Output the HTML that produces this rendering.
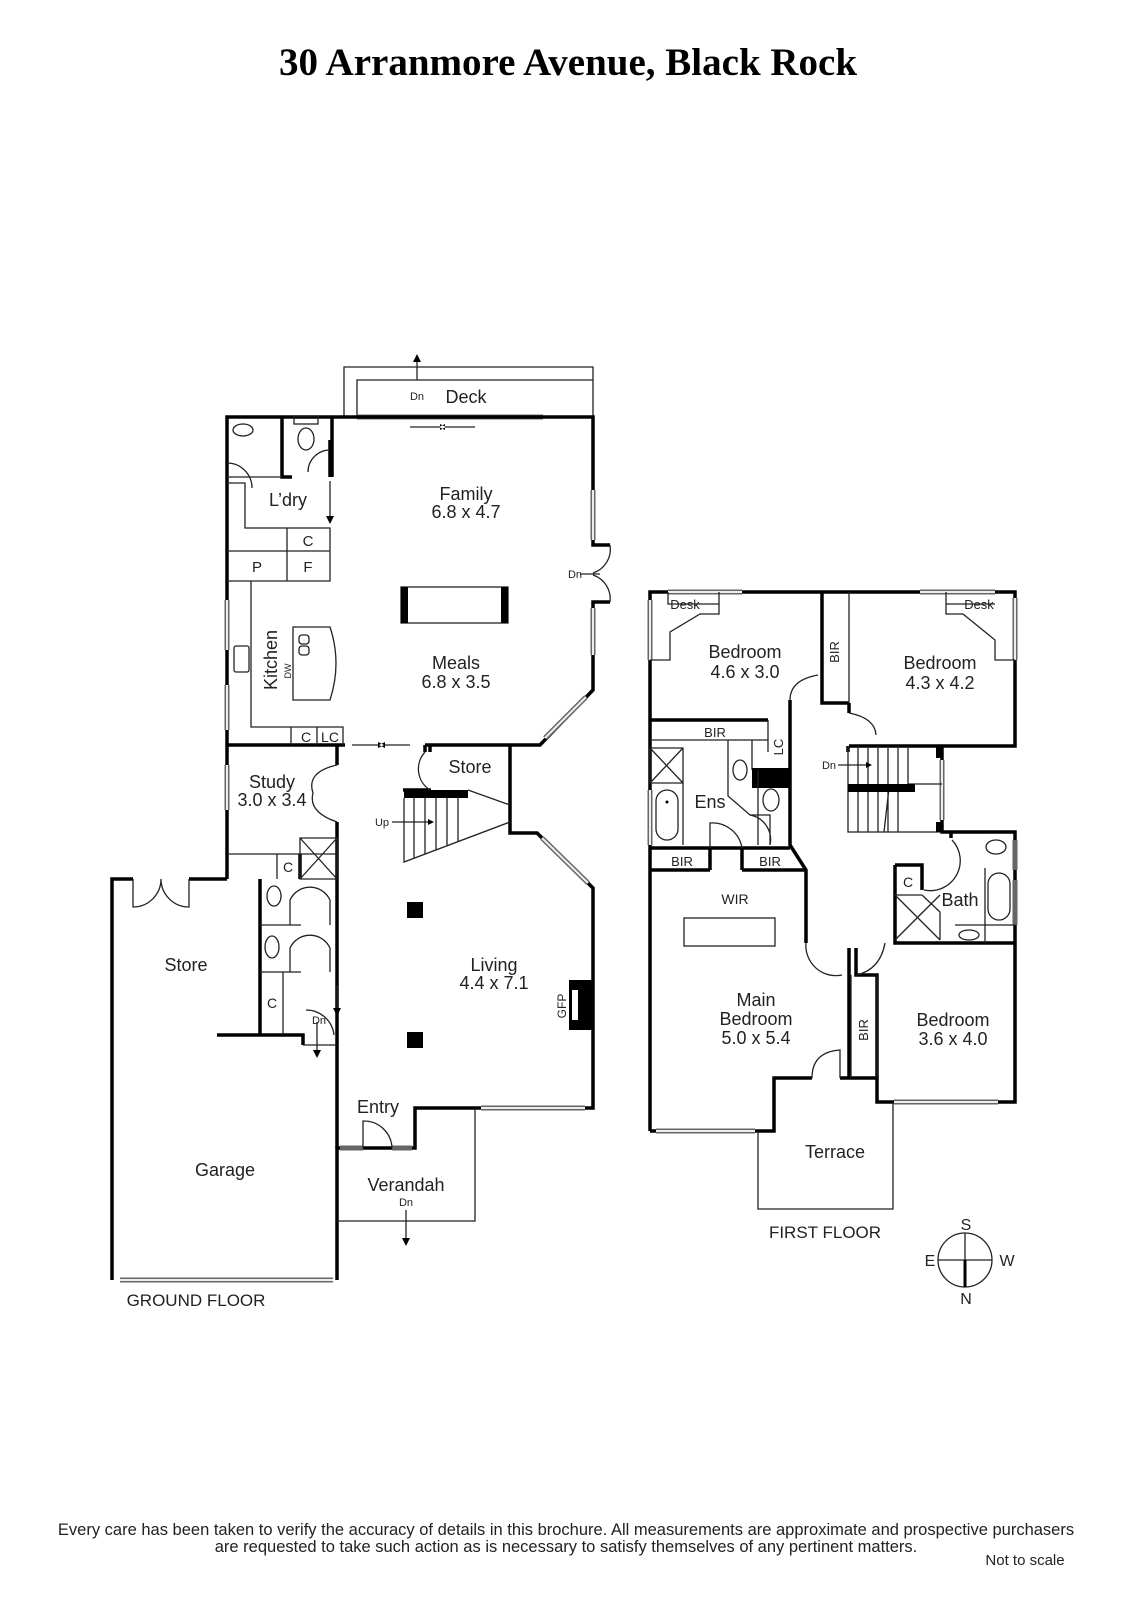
<!DOCTYPE html>
<html><head><meta charset="utf-8"><style>
html,body{margin:0;padding:0;background:#fff}
svg{display:block}
text{font-family:"Liberation Sans",sans-serif;fill:#222}
.t{font-size:18px}
.s{font-size:12px}
.w{stroke:#000;stroke-width:3.5;fill:none}
.n{stroke:#222;stroke-width:1.3;fill:none}
.win{stroke:#666;stroke-width:5;fill:none}
.win2{stroke:#eee;stroke-width:2;fill:none}
</style></head><body>
<svg width="1131" height="1600" viewBox="0 0 1131 1600" xmlns="http://www.w3.org/2000/svg">
<text x="568" y="75" text-anchor="middle" style="font-family:'Liberation Serif',serif;font-weight:bold;font-size:39px;fill:#000">30 Arranmore Avenue, Black Rock</text>

<!-- GROUND FLOOR -->
<path class="n" d="M344,417 V367 H593 V417 M357,417 V380 H593"/>
<path class="n" d="M417,380 V358"/><path d="M413,362 L417,354 L421,362Z"/>
<text x="417" y="400" text-anchor="middle" class="s" style="font-size:11px">Dn</text>
<text x="466" y="403" text-anchor="middle" class="t">Deck</text>
<line class="win" x1="357" y1="417" x2="543" y2="417"/><line class="win2" x1="357" y1="417" x2="543" y2="417"/>
<path class="n" d="M410,427 H440 M445,427 H475"/><path d="M440,424 L446,427 L440,430Z M445,424 L439,427 L445,430Z"/>

<path class="w" d="M227,879 V417 H593 V545 H610 M610,602 H593 V690 L540,745 H425 M345,745 H227"/>
<path class="w" d="M510,745 V833 H537 L593,888 V1108 H415 V1148 H337 V1280"/>
<path class="w" d="M112,1280 V879 H133 M189,879 H227 M337,833 V1148"/>
<line class="win" x1="593" y1="490" x2="593" y2="540"/><line class="win2" x1="593" y1="490" x2="593" y2="540"/>
<line class="win" x1="593" y1="608" x2="593" y2="655"/><line class="win2" x1="593" y1="608" x2="593" y2="655"/>
<line class="win" x1="545" y1="738" x2="586" y2="697"/><line class="win2" x1="545" y1="738" x2="586" y2="697"/>
<line class="win" x1="542" y1="838" x2="588" y2="883"/><line class="win2" x1="542" y1="838" x2="588" y2="883"/>
<line class="win" x1="227" y1="600" x2="227" y2="650"/><line class="win2" x1="227" y1="600" x2="227" y2="650"/>
<line class="win" x1="227" y1="685" x2="227" y2="730"/><line class="win2" x1="227" y1="685" x2="227" y2="730"/>
<line class="win" x1="227" y1="765" x2="227" y2="810"/><line class="win2" x1="227" y1="765" x2="227" y2="810"/>
<line class="win" x1="481" y1="1108" x2="585" y2="1108"/><line class="win2" x1="481" y1="1108" x2="585" y2="1108"/>
<line class="win" x1="340" y1="1148" x2="363" y2="1148"/><line class="win" x1="392" y1="1148" x2="412" y2="1148"/>
<line class="win" x1="120" y1="1280" x2="333" y2="1280"/><line class="win2" x1="120" y1="1280" x2="333" y2="1280"/>
<path class="n" d="M610,545 A25,25 0 0 1 593,573 M610,602 A25,25 0 0 0 593,575 M580,574 H600"/>
<text x="575" y="578" text-anchor="middle" style="font-size:11px">Dn</text>

<path class="w" d="M282,417 V477 H292 M332,477 V417 M330,440 V477"/>
<path class="n" d="M227,477 H282 M227,483 H245 V528 H330 V581 H227 M287,528 V581 M227,551 H330 M251,581 V727 H343 V745 M291,727 V745 M317,727 V745"/>
<path class="n" d="M227,463 A25,25 0 0 1 252,488"/>
<ellipse class="n" cx="243" cy="430" rx="10" ry="6"/>
<ellipse class="n" cx="306" cy="439" rx="8" ry="11"/><rect class="n" x="294" y="416" width="24" height="8"/>
<path class="n" d="M330,481 V520"/><path d="M326,516 L330,524 L334,516Z"/>
<path class="n" d="M330,450 A22,22 0 0 0 308,472"/>
<text x="288" y="506" text-anchor="middle" class="t">L’dry</text>
<text x="308" y="546" text-anchor="middle" class="t" style="font-size:15px">C</text>
<text x="257" y="572" text-anchor="middle" class="t" style="font-size:15px">P</text>
<text x="308" y="572" text-anchor="middle" class="t" style="font-size:15px">F</text>
<text x="306" y="742" text-anchor="middle" style="font-size:14px">C</text>
<text x="330" y="742" text-anchor="middle" style="font-size:14px">LC</text>
<path class="n" d="M293,627 H330 Q342,663 330,700 H293 Z"/>
<rect class="n" x="299" y="635" width="10" height="9" rx="3"/><rect class="n" x="299" y="646" width="10" height="9" rx="3"/>
<rect class="n" x="234" y="646" width="15" height="26" rx="2"/>
<text transform="translate(277,660) rotate(-90)" text-anchor="middle" class="t">Kitchen</text>
<text transform="translate(291,671) rotate(-90)" text-anchor="middle" style="font-size:9px">DW</text>
<rect class="n" x="401" y="587" width="107" height="36"/><rect x="401" y="587" width="7" height="36"/><rect x="501" y="587" width="7" height="36"/>
<text x="466" y="500" text-anchor="middle" class="t">Family</text><text x="466" y="518" text-anchor="middle" class="t">6.8 x 4.7</text>
<text x="456" y="669" text-anchor="middle" class="t">Meals</text><text x="456" y="688" text-anchor="middle" class="t">6.8 x 3.5</text>
<path class="n" d="M352,745 H378 M385,745 H410"/><path d="M378,742 L384,745 L378,748Z M385,742 L379,745 L385,748Z"/>
<path class="w" d="M425,745 V752 M430,745 V752 M403,790 H431"/>
<path class="n" d="M425,752 A25,25 0 0 0 430,790"/>
<rect x="404" y="790" width="64" height="8"/>
<path class="n" d="M468,790 L510,805 M404,798 V862 L510,822 M414,798 V858 M425,798 V854 M436,798 V850 M447,798 V846 M458,798 V842"/>
<path class="n" d="M392,822 H430"/><path d="M428,819 L434,822 L428,825Z"/>
<text x="382" y="826" text-anchor="middle" style="font-size:11px">Up</text>
<text x="470" y="773" text-anchor="middle" class="t">Store</text>
<path class="w" d="M337,745 V765 M337,822 V833"/>
<path class="n" d="M337,765 Q306,772 313,793 Q308,812 337,822 M229,854 H337"/>
<text x="272" y="788" text-anchor="middle" class="t">Study</text><text x="272" y="806" text-anchor="middle" class="t">3.0 x 3.4</text>
<path class="w" d="M260,879 V1035 M217,1035 H303 V1045 M300,879 V854"/>
<path class="n" d="M277,854 V879 M300,838 H337 V879 H300 Z M300,838 L337,879 M337,838 L300,879 M260,925 H301 M290,925 V900 A22,22 0 0 1 330,900 V925 M260,972 H301 M290,972 V948 A22,22 0 0 1 330,948 V972 M283,972 V1035 M303,1045 H337"/>
<ellipse class="n" cx="274" cy="896" rx="7" ry="10"/><ellipse class="n" cx="272" cy="947" rx="7" ry="11"/>
<text x="288" y="872" text-anchor="middle" style="font-size:14px">C</text>
<text x="272" y="1008" text-anchor="middle" style="font-size:14px">C</text>
<path class="n" d="M306,1010 A28,28 0 0 1 334,1035 M317,1022 V1052"/><path d="M313,1050 L317,1058 L321,1050Z"/>
<text x="319" y="1024" text-anchor="middle" style="font-size:11px">Dn</text>
<path class="n" d="M337,985 V1010"/><path d="M333,1008 L337,1016 L341,1008Z"/>
<path class="n" d="M133,879 V907 A28,28 0 0 0 161,879 A28,28 0 0 0 189,907 V879"/>
<text x="186" y="971" text-anchor="middle" class="t">Store</text>
<text x="225" y="1176" text-anchor="middle" class="t">Garage</text>
<rect x="407" y="902" width="16" height="16"/><rect x="407" y="1032" width="16" height="16"/>
<rect x="569" y="980" width="24" height="50"/><rect x="572" y="990" width="6" height="30" fill="#fff"/>
<text transform="translate(566,1006) rotate(-90)" text-anchor="middle" style="font-size:12px">GFP</text>
<text x="494" y="971" text-anchor="middle" class="t">Living</text><text x="494" y="989" text-anchor="middle" class="t">4.4 x 7.1</text>
<text x="378" y="1113" text-anchor="middle" class="t">Entry</text>
<path class="n" d="M363,1148 V1121 A28,28 0 0 1 392,1148"/>
<path class="n" d="M337,1221 H475 V1108"/>
<text x="406" y="1191" text-anchor="middle" class="t">Verandah</text>
<text x="406" y="1206" text-anchor="middle" style="font-size:11px">Dn</text>
<path class="n" d="M406,1210 V1240"/><path d="M402,1238 L406,1246 L410,1238Z"/>
<text x="196" y="1306" text-anchor="middle" style="font-size:17px">GROUND FLOOR</text>

<!-- FIRST FLOOR -->
<path class="w" d="M650,1131 V592 H1015 V746 H849 M822,592 V703 H849 M942,746 V832 H1015 V1102 H877 V1078 H840 M812,1078 H774 V1131 H650"/>
<line class="win" x1="650" y1="600" x2="650" y2="660"/><line class="win2" x1="650" y1="600" x2="650" y2="660"/>
<line class="win" x1="668" y1="592" x2="742" y2="592"/><line class="win2" x1="668" y1="592" x2="742" y2="592"/>
<line class="win" x1="920" y1="592" x2="995" y2="592"/><line class="win2" x1="920" y1="592" x2="995" y2="592"/>
<line class="win" x1="1015" y1="598" x2="1015" y2="660"/><line class="win2" x1="1015" y1="598" x2="1015" y2="660"/>
<line class="win" x1="942" y1="760" x2="942" y2="820"/><line class="win2" x1="942" y1="760" x2="942" y2="820"/>
<line class="win" x1="650" y1="790" x2="650" y2="845"/><line class="win2" x1="650" y1="790" x2="650" y2="845"/>
<line class="win" x1="656" y1="1131" x2="755" y2="1131"/><line class="win2" x1="656" y1="1131" x2="755" y2="1131"/>
<line class="win" x1="894" y1="1102" x2="998" y2="1102"/><line class="win2" x1="894" y1="1102" x2="998" y2="1102"/>
<line class="win" x1="1015" y1="840" x2="1015" y2="870"/><line class="win" x1="1015" y1="880" x2="1015" y2="925"/>
<path class="n" d="M668,592 V604 H719 V592 M719,604 L719,614 H700 L670,632 V660 H650"/>
<path class="n" d="M946,592 V604 H995 M946,604 V614 H963 L995,640 V660 H1015"/>
<text x="685" y="609" text-anchor="middle" style="font-size:13px">Desk</text>
<text x="979" y="609" text-anchor="middle" style="font-size:13px">Desk</text>
<path class="n" d="M849,592 V703"/>
<text transform="translate(839,652) rotate(-90)" text-anchor="middle" style="font-size:13px">BIR</text>
<text x="745" y="658" text-anchor="middle" class="t">Bedroom</text><text x="745" y="678" text-anchor="middle" class="t">4.6 x 3.0</text>
<text x="940" y="669" text-anchor="middle" class="t">Bedroom</text><text x="940" y="689" text-anchor="middle" class="t">4.3 x 4.2</text>
<path class="w" d="M650,720 H768 M790,700 V845 L806,870 V943 M849,703 V713 M848,746 V752"/>
<path class="n" d="M790,700 Q790,680 818,675 M849,713 Q875,718 876,735 M650,740 H768 V720 M752,740 V770 M768,740 V752"/>
<text x="715" y="737" text-anchor="middle" style="font-size:13px">BIR</text>
<text transform="translate(783,747) rotate(-90)" text-anchor="middle" style="font-size:13px">LC</text>
<rect x="752" y="768" width="38" height="20"/>
<path class="n" d="M848,746 V832 H942 M858,746 V832 M868,746 V832 M878,746 V832 M888,746 V832 M898,746 V832 M908,746 V784 H942 M889,788 L884,832"/>
<rect x="848" y="784" width="67" height="8"/><rect x="936" y="746" width="7" height="12"/><rect x="936" y="822" width="7" height="10"/>
<path class="n" d="M838,765 H868"/><path d="M866,762 L872,765 L866,768Z"/>
<text x="829" y="769" text-anchor="middle" style="font-size:11px">Dn</text>
<path class="w" d="M650,848 H790 M710,848 V870 M742,848 V870 M650,870 H710 M742,870 H806"/>
<path class="n" d="M650,748 H683 V783 H650 Z M650,748 L683,783 M683,748 L650,783 M683,748 V845 M728,740 V796 L750,815 H770 V845 M758,770 V845 M710,848 V823 A30,30 0 0 1 742,848 M750,815 A25,25 0 0 1 770,845"/>
<rect class="n" x="656" y="790" width="22" height="50" rx="11"/><circle cx="667" cy="802" r="1.5"/>
<ellipse class="n" cx="740" cy="770" rx="7" ry="10"/><ellipse class="n" cx="771" cy="800" rx="8" ry="11"/>
<text x="710" y="808" text-anchor="middle" class="t">Ens</text>
<text x="682" y="866" text-anchor="middle" style="font-size:13px">BIR</text>
<text x="770" y="866" text-anchor="middle" style="font-size:13px">BIR</text>
<text x="735" y="904" text-anchor="middle" style="font-size:14px">WIR</text>
<rect class="n" x="684" y="918" width="91" height="28"/>
<path class="w" d="M895,865 H922 V890 M895,865 V943 H1015 M951,832 V838"/>
<path class="n" d="M895,895 H922 M895,895 L940,940 M940,895 L895,940 M922,895 L940,912 V940 M952,840 A30,30 0 0 1 924,890 M985,868 V943 M955,925 H1015"/>
<rect class="n" x="988" y="873" width="22" height="47" rx="11"/>
<ellipse class="n" cx="996" cy="847" rx="10" ry="7"/><ellipse class="n" cx="969" cy="935" rx="10" ry="5"/>
<text x="908" y="887" text-anchor="middle" style="font-size:14px">C</text>
<text x="960" y="906" text-anchor="middle" class="t">Bath</text>
<path class="w" d="M849,948 V1078 M856,948 V975 H877 V1078"/>
<path class="n" d="M806,943 A30,30 0 0 0 842,975 M856,975 Q880,970 885,943 M877,975 V1078 M851,975 V1078"/>
<text transform="translate(868,1030) rotate(-90)" text-anchor="middle" style="font-size:13px">BIR</text>
<path class="n" d="M812,1078 Q812,1052 840,1050 V1078"/>
<text x="756" y="1006" text-anchor="middle" class="t">Main</text><text x="756" y="1025" text-anchor="middle" class="t">Bedroom</text><text x="756" y="1044" text-anchor="middle" class="t">5.0 x 5.4</text>
<text x="953" y="1026" text-anchor="middle" class="t">Bedroom</text><text x="953" y="1045" text-anchor="middle" class="t">3.6 x 4.0</text>
<path class="n" d="M758,1131 V1209 H893 V1102"/>
<text x="835" y="1158" text-anchor="middle" class="t">Terrace</text>
<text x="825" y="1238" text-anchor="middle" style="font-size:17px">FIRST FLOOR</text>
<circle class="n" cx="965" cy="1260" r="27"/>
<path class="n" d="M938,1260 H992 M965,1233 V1260"/><path d="M965,1260 V1287" stroke="#000" stroke-width="3"/>
<text x="966" y="1230" text-anchor="middle" style="font-size:16px">S</text>
<text x="930" y="1266" text-anchor="middle" style="font-size:16px">E</text>
<text x="1007" y="1266" text-anchor="middle" style="font-size:16px">W</text>
<text x="966" y="1304" text-anchor="middle" style="font-size:16px">N</text>

<text x="566" y="1535" text-anchor="middle" style="font-size:16.5px">Every care has been taken to verify the accuracy of details in this brochure.  All measurements are approximate and prospective purchasers</text>
<text x="566" y="1552" text-anchor="middle" style="font-size:16.5px">are requested to take such action as is necessary to satisfy themselves of any pertinent matters.</text>
<text x="1025" y="1565" text-anchor="middle" style="font-size:15px">Not to scale</text>
</svg>
</body></html>
